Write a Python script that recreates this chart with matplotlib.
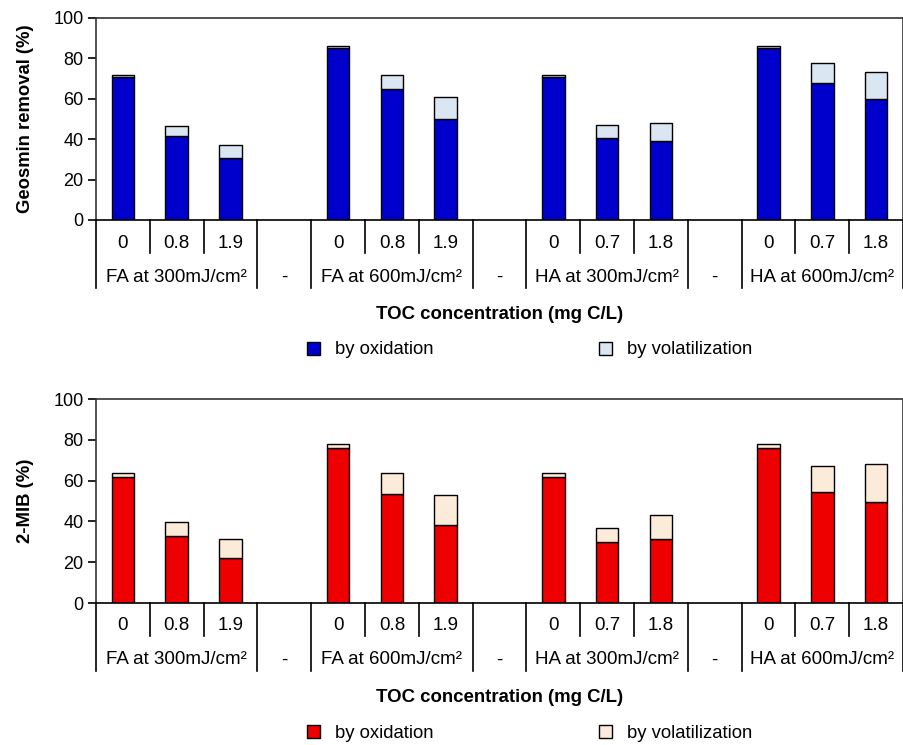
import numpy as np
import matplotlib.pyplot as plt

plt.rcParams['font.family'] = ['Liberation Sans', 'DejaVu Sans']

# 15 slots: 4 groups of 3 bars, with an empty slot between groups
toc_labels = ['0', '0.8', '1.9', '', '0', '0.8', '1.9', '',
              '0', '0.7', '1.8', '', '0', '0.7', '1.8']
group_labels = ['FA at 300mJ/cm²', '-', 'FA at 600mJ/cm²', '-',
                'HA at 300mJ/cm²', '-', 'HA at 600mJ/cm²']
group_sizes = [3, 1, 3, 1, 3, 1, 3]

geo_oxid = [70.7, 41.6, 30.9, np.nan, 85.3, 64.8, 50.2, np.nan,
            70.7, 40.8, 39.2, np.nan, 85.3, 67.8, 60.0]
geo_total = [71.6, 46.3, 36.9, np.nan, 86.3, 71.6, 60.8, np.nan,
             71.6, 46.9, 47.8, np.nan, 86.3, 77.9, 73.2]

mib_oxid = [62.0, 33.0, 22.1, np.nan, 75.8, 53.6, 38.3, np.nan,
            62.0, 29.9, 31.4, np.nan, 75.8, 54.2, 49.6]
mib_total = [63.6, 39.9, 31.4, np.nan, 78.0, 63.6, 52.8, np.nan,
             63.6, 36.9, 43.0, np.nan, 78.0, 67.4, 68.0]

W, H = 904, 745
fig = plt.figure(figsize=(W / 100, H / 100), dpi=100)


def panel(rect, oxid, total, c_ox, c_vol, ylabel, toc_y, leg_y):
    ax = fig.add_axes(rect)
    x = np.arange(len(toc_labels))
    oxid = np.array(oxid)
    vol = np.array(total) - oxid
    b1 = ax.bar(x, oxid, width=0.42, color=c_ox, edgecolor='black', lw=1)
    b2 = ax.bar(x, vol, width=0.42, bottom=oxid, color=c_vol,
                edgecolor='black', lw=1)
    ax.set_xlim(-0.5, len(x) - 0.5)
    ax.set_ylim(0, 100)
    ax.set_yticks(range(0, 101, 20))
    ax.tick_params(axis='y', labelsize=13, length=6, width=1.2, pad=3)
    ax.set_xticks([])
    for s in ax.spines.values():
        s.set_color('#333333')
        s.set_linewidth(1.2)
    ax.spines['bottom'].set_color('black')
    ax.set_ylabel(ylabel, fontsize=13.3, fontweight='bold', labelpad=14)

    # category table under the axis
    hpx = rect[3] * H
    f = lambda px: -px / hpx
    trans = ax.get_xaxis_transform()
    bounds = np.cumsum([0] + group_sizes) - 0.5
    for xb in np.arange(-0.5, len(x)):
        long = np.isclose(bounds, xb).any()
        ax.plot([xb, xb], [0, f(68 if long else 33)], color='black',
                lw=1.2, transform=trans, clip_on=False)
    for xi, lab in zip(x, toc_labels):
        ax.text(xi, f(23), lab, ha='center', va='center', fontsize=13.5,
                transform=trans)
    for i, lab in enumerate(group_labels):
        xc = (bounds[i] + bounds[i + 1]) / 2
        ax.text(xc, f(57), lab, ha='center', va='center', fontsize=13.5,
                transform=trans)

    xc_fig = rect[0] + rect[2] / 2
    fig.text(xc_fig, toc_y, 'TOC concentration (mg C/L)', ha='center',
             va='center', fontsize=13.4, fontweight='bold')
    fig.legend([b1, b2], ['by oxidation', 'by volatilization'], ncol=2,
               loc='center', bbox_to_anchor=(0.586, leg_y), frameon=False,
               fontsize=13.3, handlelength=0.7, handleheight=0.7,
               handletextpad=0.8, columnspacing=8.95)
    return ax


panel([96 / W, 1 - 220 / H, 807 / W, 202 / H], geo_oxid, geo_total,
      '#0000CC', '#DAE6F2', 'Geosmin removal (%)',
      1 - 315 / H, 1 - 350 / H)
panel([96 / W, 1 - 603 / H, 807 / W, 204 / H], mib_oxid, mib_total,
      '#EE0000', '#FDEBDA', '2-MIB (%)',
      1 - 697 / H, 1 - 733 / H)

fig.savefig('out.png', dpi=100)
